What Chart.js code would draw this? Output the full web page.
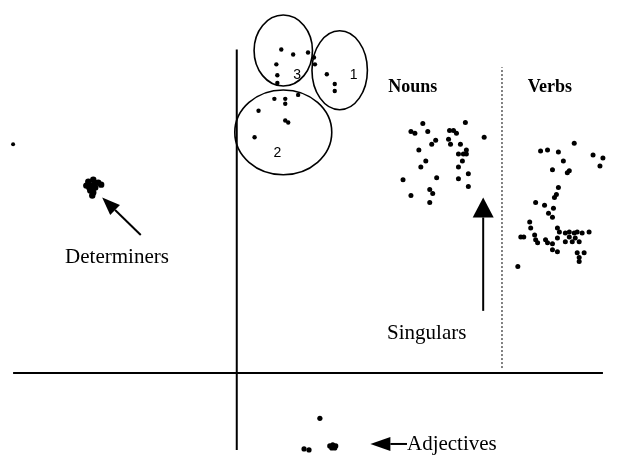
<!DOCTYPE html>
<html><head><meta charset="utf-8">
<script src="https://cdn.jsdelivr.net/npm/chart.js@4/dist/chart.umd.min.js"></script>
<style>html,body{margin:0;padding:0;background:#fff;}#wrap{width:619px;height:459px;}</style>
</head><body><div id="wrap"><canvas id="c" width="619" height="459"></canvas></div>
<script>
// ---- data (units: origin at the axes crossing) ----
const clusterX = [45,57,72,78,79,40,41,41,91,99,99,38,49,49,62,22,49,52,18];
const clusterY = [328,323,325,320,313,313,302,294,303,293,286,278,278,273,282,266,256,254,239];

const nounsX = [188,176,180,193,215,219,222,231,250,201,197,214,216,226,184,232,224,229,232,191,228,186,224,234,168,202,224,234,195,198,176,195];
const nounsY = [253,245,243,245,246,246,243,254,239,236,232,237,232,232,226,226,222,222,222,215,215,209,209,202,196,198,197,189,186,182,180,173];

const verbsX = [341,307,314,325,360,370,330,367,319,336,334,325,323,321,302,311,320,315,319,296,297,324,326,287,290,301,302,304,312,314,319,324,332,336,341,344,349,356,336,342,346,339,332,319,324,344,346,351,346,284];
const verbsY = [233,225,226,224,221,218,215,210,206,205,203,188,181,178,173,170,167,162,158,153,147,147,143,138,138,140,135,132,135,132,125,123,142,143,142,143,142,143,138,137,133,133,133,131,137,122,117,122,113,108];

const strayX = [-226];
const strayY = [232];

const detX = [-150,-145,-140,-137,-152,-147,-143,-148,-145,-146,-149,-144];
const detY = [194,196,193,191,190,190,188,185,183,180,188,191];

const adjX = [84,68,73,94,97,100,96,99];
const adjY = [-46,-77,-78,-74,-73,-74,-76,-76];

// axis lines and divider
const hAxisX = [-226, 370], hAxisY = [0, 0];
const vAxisX = [0, 0], vAxisY = [-78, 328];
const divX = [268, 268], divY = [5, 310];

// circled groups: centre x, centre y, radius x, radius y
const ellCX = [47, 104, 47];
const ellCY = [327, 307, 244];
const ellRX = [29.5, 28, 49];
const ellRY = [36, 40, 43];
const ellNames = ['3', '1', '2'];
const ellNameX = [61, 118, 41];
const ellNameY = [302, 302, 223];

// arrows: tail -> tip
const arrTailX = [-97, 249, 172];
const arrTailY = [140, 63, -72];
const arrTipX = [-136, 249, 135];
const arrTipY = [178, 178, -72];

// text labels
const labTexts = ['Nouns', 'Verbs', 'Determiners', 'Singulars', 'Adjectives'];
const labX = [153, 294, -121, 192, 172];
const labY = [290, 290, 117, 40, -73];

const pts = (xs, ys) => xs.map((x, i) => ({x, y: ys[i]}));

const annot = {
  id: 'annot',
  afterDatasetsDraw(chart) {
    const {ctx, scales: {x, y}} = chart;
    ctx.save();
    ctx.strokeStyle = '#000';
    ctx.fillStyle = '#000';
    // ellipses
    ctx.lineWidth = 1.6;
    ellCX.forEach((cx, i) => {
      const px = x.getPixelForValue(cx), py = y.getPixelForValue(ellCY[i]);
      const rx = Math.abs(x.getPixelForValue(cx + ellRX[i]) - px);
      const ry = Math.abs(y.getPixelForValue(ellCY[i] + ellRY[i]) - py);
      ctx.beginPath(); ctx.ellipse(px, py, rx, ry, 0, 0, Math.PI * 2); ctx.stroke();
    });
    ctx.font = '14px "Liberation Sans", Arial, sans-serif';
    ctx.textAlign = 'center'; ctx.textBaseline = 'middle';
    ellNames.forEach((t, i) => ctx.fillText(t, x.getPixelForValue(ellNameX[i]), y.getPixelForValue(ellNameY[i])));
    // arrows
    const head = [[18, 14], [20, 21], [20, 14]];
    arrTailX.forEach((tx, i) => {
      const x0 = x.getPixelForValue(tx), y0 = y.getPixelForValue(arrTailY[i]);
      const x1 = x.getPixelForValue(arrTipX[i]), y1 = y.getPixelForValue(arrTipY[i]);
      const a = Math.atan2(y1 - y0, x1 - x0);
      const [L, W] = head[i];
      const bx = x1 - L * Math.cos(a), by = y1 - L * Math.sin(a);
      ctx.lineWidth = 2;
      ctx.beginPath(); ctx.moveTo(x0, y0); ctx.lineTo(bx, by); ctx.stroke();
      ctx.beginPath();
      ctx.moveTo(x1, y1);
      ctx.lineTo(bx + W / 2 * Math.sin(a), by - W / 2 * Math.cos(a));
      ctx.lineTo(bx - W / 2 * Math.sin(a), by + W / 2 * Math.cos(a));
      ctx.closePath(); ctx.fill();
    });
    // labels
    labTexts.forEach((t, i) => {
      const bold = i < 2;
      ctx.font = (bold ? 'bold 18px ' : '21px ') + '"Liberation Serif", "Times New Roman", serif';
      ctx.textAlign = (bold || i === 4) ? 'left' : 'center';
      ctx.textBaseline = 'middle';
      ctx.fillText(t, x.getPixelForValue(labX[i]), y.getPixelForValue(labY[i]));
    });
    ctx.restore();
  }
};

const dot = r => ({type: 'scatter', backgroundColor: '#000', borderColor: '#000', pointRadius: r, pointBorderWidth: 0, pointHoverRadius: r});
const seg = (xs, ys, w, dash) => ({type: 'line', data: pts(xs, ys), borderColor: '#000', borderWidth: w, borderDash: dash || [], pointRadius: 0, fill: false});

new Chart(document.getElementById('c'), {
  data: {
    datasets: [
      seg(hAxisX, hAxisY, 2),
      seg(vAxisX, vAxisY, 2),
      seg(divX, divY, 1, [2, 2]),
      Object.assign(dot(2.2), {data: pts(clusterX, clusterY)}),
      Object.assign(dot(2.5), {data: pts(nounsX, nounsY)}),
      Object.assign(dot(2.5), {data: pts(verbsX, verbsY)}),
      Object.assign(dot(2), {data: pts(strayX, strayY)}),
      Object.assign(dot(3.2), {data: pts(detX, detY)}),
      Object.assign(dot(2.6), {data: pts(adjX, adjY)})
    ]
  },
  options: {
    responsive: false,
    animation: false,
    devicePixelRatio: 1,
    layout: {padding: 0},
    plugins: {legend: {display: false}, tooltip: {enabled: false}},
    scales: {
      x: {type: 'linear', min: -236, max: 383, display: false},
      y: {type: 'linear', min: -84, max: 375, display: false}
    }
  },
  plugins: [annot]
});
</script></body></html>
